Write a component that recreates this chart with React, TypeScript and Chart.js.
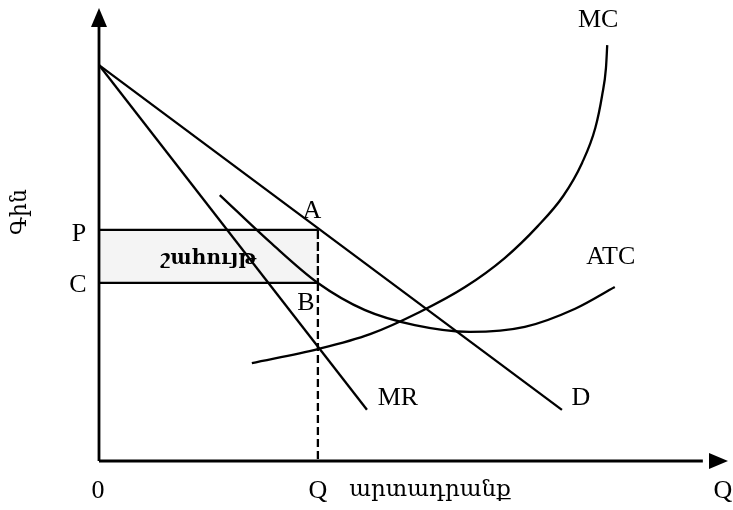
import React, { useEffect, useRef } from "react";
import { Chart, registerables } from "chart.js";

Chart.register(...registerables);

// Economic values (data units: quantity 0..100, price 0..100)
const priceIntercept = 87.4;
const demandEnd = [73.6, 11.3];
const mrEnd = [42.6, 11.3];
const Qm = 34.8; // profit-maximising quantity
const Pm = 51.0; // price
const Cm = 39.3; // average cost at Qm

const mcX = [24.3, 34.8, 43.1, 51.0, 58.2, 64.5, 69.8, 73.8, 76.8, 78.9, 80.0, 80.6, 80.8];
const mcY = [21.6, 24.7, 28.0, 32.9, 38.4, 44.8, 51.9, 58.5, 65.8, 73.5, 80.8, 86.8, 91.8];

const atcX = [19.2, 27.2, 34.8, 42.3, 50.2, 59.0, 67.7, 75.7, 82.0];
const atcY = [58.7, 48.3, 39.3, 33.3, 30.0, 28.5, 29.6, 33.6, 38.4];

const curveNames = ["MC", "ATC", "MR", "D"];
const axisTickLabels = ["0", "Q", "Q"];
const priceTickLabels = ["P", "C"];
const pointNames = ["A", "B"];
const xTitle = "արտադրանք";
const yTitle = "Գին";
const profitText = "շահույթ";

const zip = (xs: number[], ys: number[]) => xs.map((x, i) => ({ x, y: ys[i] }));

const SERIF = "'Liberation Serif', 'DejaVu Serif', serif";
const ARM = "'DejaVu Serif', serif";

export default function App() {
  const ref = useRef<HTMLCanvasElement | null>(null);

  useEffect(() => {
    if (!ref.current) return;
    const black = "#000";
    const line = (data: any[], extra: any = {}) => ({
      type: "scatter",
      data,
      showLine: true,
      borderColor: black,
      borderWidth: 2.3,
      pointRadius: 0,
      tension: 0,
      clip: false,
      fill: false,
      ...extra,
    });

    const labelsPlugin = {
      id: "econLabels",
      afterDatasetsDraw(chart: any) {
        const { ctx } = chart;
        const xs = chart.scales.x;
        const ys = chart.scales.y;
        const px = (v: number) => xs.getPixelForValue(v);
        const py = (v: number) => ys.getPixelForValue(v);
        ctx.save();
        ctx.fillStyle = black;
        // arrowheads
        const x0 = px(0), y0 = py(0), xT = px(100), yT = py(100);
        ctx.beginPath();
        ctx.moveTo(x0, yT);
        ctx.lineTo(x0 - 8, yT + 19);
        ctx.lineTo(x0 + 8, yT + 19);
        ctx.closePath();
        ctx.fill();
        ctx.beginPath();
        ctx.moveTo(xT, y0);
        ctx.lineTo(xT - 19, y0 - 8);
        ctx.lineTo(xT - 19, y0 + 8);
        ctx.closePath();
        ctx.fill();

        ctx.textAlign = "center";
        ctx.textBaseline = "middle";
        ctx.font = `26px ${SERIF}`;
        const put = (t: string, x: number, y: number) => ctx.fillText(t, x, y);
        // curve labels
        put(curveNames[0], px(mcX[mcX.length - 1]) - 9, py(mcY[mcY.length - 1]) - 25);
        put(curveNames[1], px(atcX[atcX.length - 1]) - 4, py(atcY[atcY.length - 1]) - 30);
        put(curveNames[2], px(mrEnd[0]) + 31, py(mrEnd[1]) - 12);
        put(curveNames[3], px(demandEnd[0]) + 19, py(demandEnd[1]) - 12);
        // points
        put(pointNames[0], px(Qm) - 6, py(Pm) - 19);
        put(pointNames[1], px(Qm) - 12, py(Cm) + 20);
        // price ticks
        put(priceTickLabels[0], px(0) - 20, py(Pm) + 4);
        put(priceTickLabels[1], px(0) - 21, py(Cm) + 2);
        // quantity ticks
        put(axisTickLabels[0], px(0) - 1, py(0) + 30);
        put(axisTickLabels[1], px(Qm), py(0) + 30);
        put(axisTickLabels[2], px(100) - 5, py(0) + 30);
        // titles
        ctx.font = `23px ${ARM}`;
        put(xTitle, 430, py(0) + 29);
        ctx.save();
        ctx.translate(20, 212);
        ctx.rotate(-Math.PI / 2);
        ctx.font = `22px ${ARM}`;
        put(yTitle, 0, 0);
        ctx.restore();
        ctx.font = `bold 20px ${ARM}`;
        put(profitText, (px(0) + px(Qm)) / 2, (py(Pm) + py(Cm)) / 2 + 2);
        ctx.restore();
      },
    };

    const chart = new Chart(ref.current, {
      type: "scatter",
      data: {
        datasets: [
          // axes
          line([{ x: 0, y: 0 }, { x: 96, y: 0 }], { borderWidth: 2.8 }),
          line([{ x: 0, y: 0 }, { x: 0, y: 96 }], { borderWidth: 2.8 }),
          // profit rectangle
          line([{ x: 0, y: Pm }, { x: Qm, y: Pm }], {
            fill: { value: Cm },
            backgroundColor: "rgba(0,0,0,0.045)",
          }),
          line([{ x: 0, y: Cm }, { x: Qm, y: Cm }]),
          line([{ x: Qm, y: Pm }, { x: Qm, y: Cm }], { borderDash: [9, 3] }),
          line([{ x: Qm, y: Cm }, { x: Qm, y: 0 }], { borderDash: [8, 4] }),
          // demand and marginal revenue
          line([{ x: 0, y: priceIntercept }, { x: demandEnd[0], y: demandEnd[1] }]),
          line([{ x: 0, y: priceIntercept }, { x: mrEnd[0], y: mrEnd[1] }]),
          // cost curves
          line(zip(mcX, mcY), { cubicInterpolationMode: "monotone" }),
          line(zip(atcX, atcY), { cubicInterpolationMode: "monotone" }),
        ] as any,
      },
      options: {
        animation: false,
        responsive: true,
        maintainAspectRatio: false,
        layout: { padding: { left: 99, right: 5, top: 8, bottom: 49 } },
        scales: {
          x: { type: "linear", min: 0, max: 100, display: false },
          y: { type: "linear", min: 0, max: 100, display: false },
        },
        plugins: { legend: { display: false }, tooltip: { enabled: false } },
      },
      plugins: [labelsPlugin],
    } as any);
    return () => chart.destroy();
  }, []);

  return (
    <div style={{ position: "fixed", left: 0, top: 0, width: 733, height: 510, background: "#fff" }}>
      <canvas ref={ref} />
    </div>
  );
}
